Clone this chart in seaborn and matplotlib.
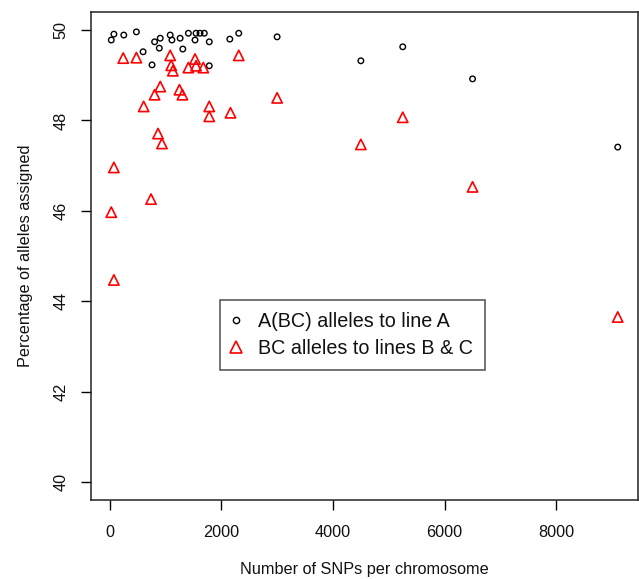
import matplotlib
matplotlib.use("Agg")
import matplotlib.pyplot as plt
import seaborn as sns
import pandas as pd
from matplotlib.lines import Line2D

# A(BC) alleles assigned to line A
snps_a = [30, 77, 254, 480, 600, 760, 806, 907, 890, 1085, 1116, 1263, 1311,
          1411, 1548, 1530, 1619, 1696, 1785, 1785, 2153, 2313, 3000, 4500,
          5250, 6500, 9100]
pct_a = [49.78, 49.91, 49.89, 49.96, 49.52, 49.23, 49.74, 49.82, 49.60, 49.89,
         49.78, 49.82, 49.58, 49.93, 49.93, 49.78, 49.93, 49.93, 49.74, 49.21,
         49.80, 49.93, 49.85, 49.32, 49.63, 48.92, 47.41]

# BC alleles assigned to lines B & C
snps_bc = [244, 480, 610, 806, 907, 1085, 1103, 1133, 1251, 1304, 1411, 1530,
           1548, 1678, 1785, 1785, 2165, 2313, 867, 938, 77, 742, 30, 77,
           3000, 4500, 5250, 6500, 9100]
pct_bc = [49.38, 49.39, 48.31, 48.57, 48.75, 49.44, 49.22, 49.10, 48.68, 48.57,
          49.17, 49.36, 49.21, 49.17, 48.31, 48.09, 48.17, 49.44, 47.71, 47.49,
          46.96, 46.26, 45.97, 44.47, 48.50, 47.47, 48.07, 46.53, 43.65]

x_ticks = [0, 2000, 4000, 6000, 8000]
y_ticks = [40, 42, 44, 46, 48, 50]
legend_labels = ["A(BC) alleles to line A", "BC alleles to lines B & C"]

sns.set_style("ticks")
plt.rcParams["font.family"] = ["Liberation Sans", "DejaVu Sans"]

df_a = pd.DataFrame({"snps": snps_a, "pct": pct_a})
df_bc = pd.DataFrame({"snps": snps_bc, "pct": pct_bc})

fig = plt.figure(figsize=(6.39, 5.79), dpi=100)
W, H = 639, 579
left, right, top, bottom = 91, 638, 12, 500
ax = fig.add_axes([left / W, (H - bottom) / H, (right - left) / W, (bottom - top) / H])

sns.scatterplot(data=df_a, x="snps", y="pct", ax=ax, marker="o", s=16,
                facecolor="none", edgecolor="black", linewidth=1.0)
sns.scatterplot(data=df_bc, x="snps", y="pct", ax=ax, marker="^", s=55,
                facecolor="none", edgecolor="#ff0000", linewidth=1.2)

ax.set_xlim(-333, 9463)
ax.set_ylim(39.6, 50.4)
ax.set_xticks(x_ticks)
ax.set_yticks(y_ticks)
ax.set_xticklabels([str(t) for t in x_ticks])
ax.set_yticklabels([str(t) for t in y_ticks], rotation=90, va="center")

fs = 11.7
ax.tick_params(axis="both", length=7, width=1, labelsize=fs, color="black",
               labelcolor="#111111")
ax.tick_params(axis="x", pad=11)
ax.tick_params(axis="y", pad=9)
for sp in ax.spines.values():
    sp.set_visible(True)
    sp.set_color("#222222")
    sp.set_linewidth(1.1)

ax.set_xlabel("Number of SNPs per chromosome", fontsize=fs, labelpad=16, color="#111111")
ax.set_ylabel("Percentage of alleles assigned", fontsize=fs, labelpad=15, color="#111111")

handles = [
    Line2D([], [], linestyle="none", marker="o", markersize=4.5, markerfacecolor="none",
           markeredgecolor="black", markeredgewidth=1.0),
    Line2D([], [], linestyle="none", marker="^", markersize=8, markerfacecolor="none",
           markeredgecolor="#ff0000", markeredgewidth=1.2),
]
leg = ax.legend(handles, legend_labels, loc="upper left",
                bbox_to_anchor=((220 - left) / (right - left), (bottom - 300) / (bottom - top)),
                frameon=True, fancybox=False, edgecolor="#222222", fontsize=14.2,
                handlelength=0.45, handletextpad=0.9, borderpad=0.6, labelspacing=0.4,
                borderaxespad=0)
leg.get_frame().set_linewidth(1.1)
for t in leg.get_texts():
    t.set_color("#111111")

fig.savefig("out.png", dpi=100)
